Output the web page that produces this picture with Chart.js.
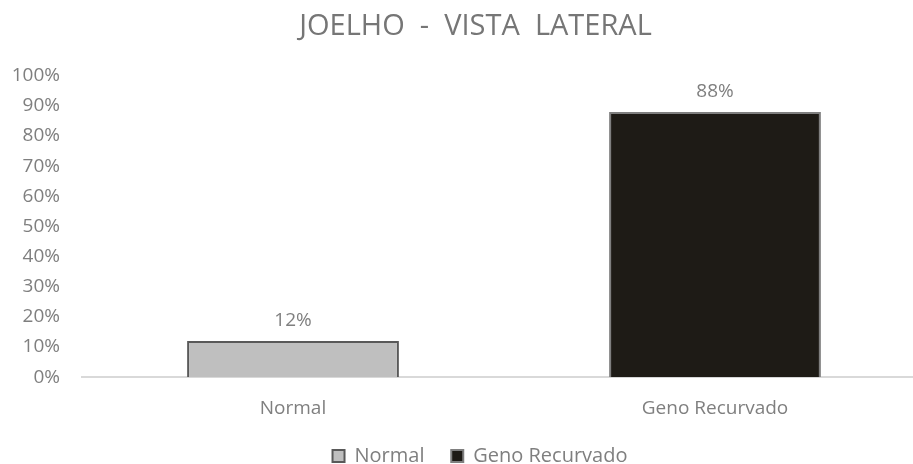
<!DOCTYPE html>
<html>
<head>
<meta charset="utf-8">
<script src="https://cdn.jsdelivr.net/npm/chart.js@4.4.0/dist/chart.umd.min.js"></script>
<style>
  html, body { margin: 0; padding: 0; background: #fff; overflow: hidden; }
  #wrap { width: 926px; height: 476px; position: relative; }
</style>
</head>
<body>
<div id="wrap"><canvas id="chart"></canvas></div>
<script>
const categories = ['Normal', 'Geno Recurvado'];
const values = [12, 88];
const seriesNames = ['Normal', 'Geno Recurvado'];
const yTicks = [0, 10, 20, 30, 40, 50, 60, 70, 80, 90, 100];

const fills = ['#bfbfbf', '#1e1b16'];
const borders = ['#595959', '#7f7f7f'];
const FONT = '"Open Sans", sans-serif';

// value labels above each bar
const valueLabels = {
    id: 'valueLabels',
    afterLayout(chart) {
        // legend sits a little right of centre in the original
        chart.legend.left += 12;
        chart.legend.right += 12;
    },
    afterDatasetsDraw(chart) {
        const ctx = chart.ctx;
        ctx.save();
        ctx.font = '19px ' + FONT;
        ctx.fillStyle = '#7f7f7f';
        ctx.textAlign = 'center';
        ctx.textBaseline = 'bottom';
        chart.data.datasets.forEach((ds, i) => {
            const meta = chart.getDatasetMeta(i);
            meta.data.forEach((bar, j) => {
                if (ds.data[j] == null) return;
                ctx.fillText(ds.data[j] + '%', bar.x, bar.y - 11);
            });
        });
        ctx.restore();
    }
};

const datasets = seriesNames.map((name, i) => ({
    label: name,
    data: categories.map((c, j) => (j === i ? values[j] : null)),
    backgroundColor: fills[i],
    borderColor: borders[i],
    borderWidth: 2,
    borderSkipped: 'bottom',
    barPercentage: 0.502,
    categoryPercentage: 1,
    grouped: false,
}));

new Chart(document.getElementById('chart'), {
    type: 'bar',
    data: { labels: categories, datasets: datasets },
    options: {
        responsive: true,
        maintainAspectRatio: false,
        animation: false,
        layout: { padding: { left: 10, right: 0, top: 0, bottom: 0 } },
        plugins: {
            title: {
                display: true,
                text: '  JOELHO  -  VISTA  LATERAL',
                color: '#767676',
                font: { family: FONT, size: 29, weight: 'normal' },
                padding: { top: 9, bottom: 32 },
            },
            legend: {
                position: 'bottom',
                labels: {
                    color: '#7f7f7f',
                    font: { family: FONT, size: 20 },
                    boxWidth: 12,
                    boxHeight: 12,
                    padding: 6,
                    generateLabels(chart) {
                        const items = Chart.defaults.plugins.legend.labels.generateLabels(chart);
                        items.forEach((it, i) => { if (i < items.length - 1) it.text += '    '; });
                        return items;
                    },
                },
            },
            tooltip: { enabled: false },
        },
        scales: {
            x: {
                grid: { display: false, drawTicks: false },
                border: { color: '#d9d9d9', width: 2 },
                ticks: {
                    color: '#7f7f7f',
                    font: { family: FONT, size: 19 },
                    padding: 20,
                },
            },
            y: {
                min: 0,
                max: 100,
                afterBuildTicks(axis) { axis.ticks = yTicks.map(v => ({ value: v })); },
                afterFit(axis) { axis.width = 72; },
                grid: { display: false, drawTicks: false },
                border: { display: false },
                ticks: {
                    color: '#7f7f7f',
                    font: { family: FONT, size: 19 },
                    padding: 22,
                    callback: v => v + '%',
                },
            },
        },
    },
    plugins: [valueLabels],
});
</script>
</body>
</html>
